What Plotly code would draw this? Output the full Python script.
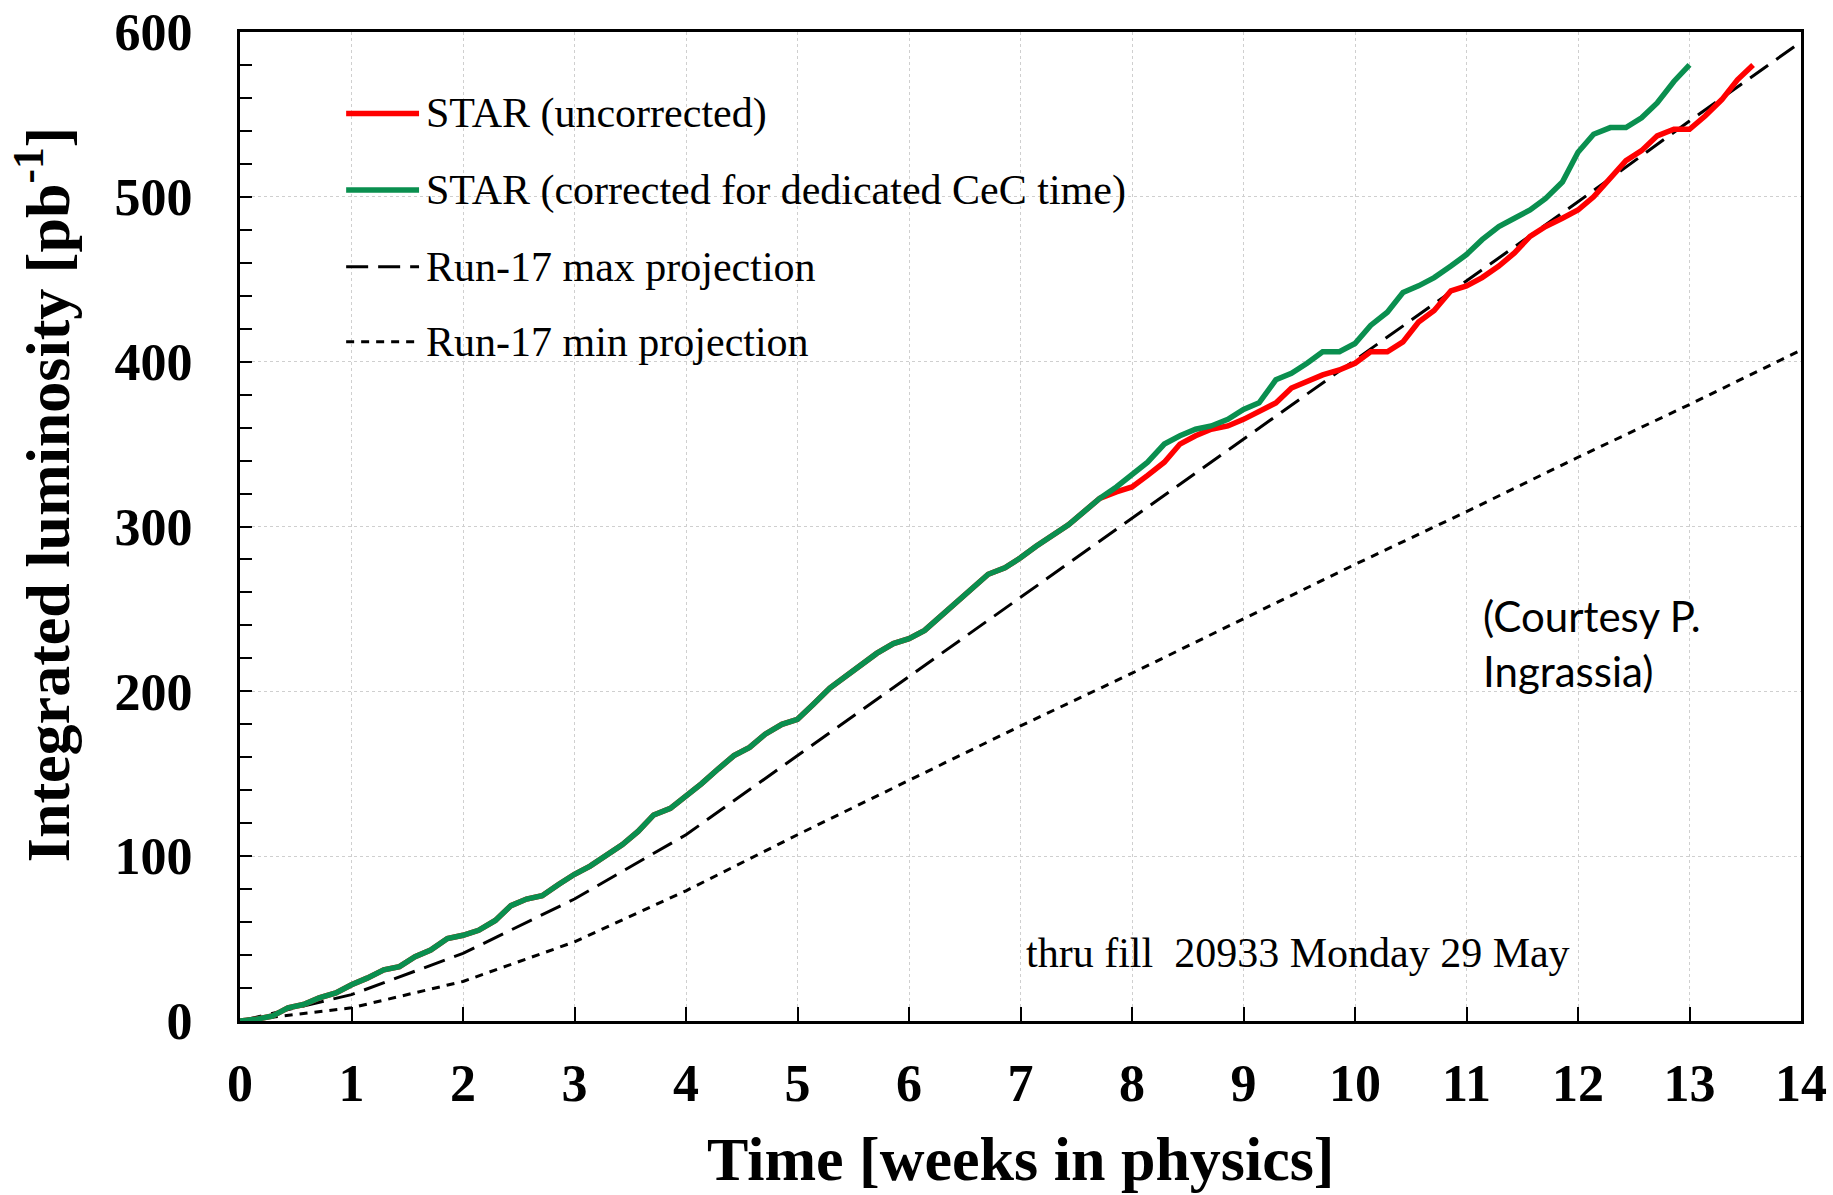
import plotly.graph_objects as go

# Time axis for the measured curves (weeks in physics, one point per day)
weeks_corr = [0.00, 0.14, 0.29, 0.43, 0.57, 0.71, 0.86, 1.00, 1.14, 1.29, 1.43, 1.57, 1.71, 1.86,
              2.00, 2.14, 2.29, 2.43, 2.57, 2.71, 2.86, 3.00, 3.14, 3.29, 3.43, 3.57, 3.71, 3.86,
              4.00, 4.14, 4.29, 4.43, 4.57, 4.71, 4.86, 5.00, 5.14, 5.29, 5.43, 5.57, 5.71, 5.86,
              6.00, 6.14, 6.29, 6.43, 6.57, 6.71, 6.86, 7.00, 7.14, 7.29, 7.43, 7.57, 7.71, 7.86,
              8.00, 8.14, 8.29, 8.43, 8.57, 8.71, 8.86, 9.00, 9.14, 9.29, 9.43, 9.57, 9.71, 9.86,
              10.00, 10.14, 10.29, 10.43, 10.57, 10.71, 10.86, 11.00, 11.14, 11.29, 11.43, 11.57,
              11.71, 11.86, 12.00, 12.14, 12.29, 12.43, 12.57, 12.71, 12.86, 13.00]

# STAR corrected for dedicated CeC time [pb^-1]
lumi_corr = [0, 1, 3, 8, 10, 14, 17, 22, 26, 31, 33, 39, 43, 50,
             52, 55, 61, 70, 74, 76, 83, 89, 94, 101, 107, 115, 125, 129,
             136, 144, 153, 161, 166, 174, 180, 183, 192, 202, 209, 216, 223, 229,
             232, 237, 246, 254, 263, 271, 275, 281, 288, 295, 301, 309, 317, 324,
             332, 339, 350, 355, 359, 361, 365, 371, 375, 389, 393, 399, 406, 406,
             411, 422, 430, 442, 446, 451, 458, 465, 474, 482, 487, 492,
             499, 509, 527, 538, 542, 542, 548, 557, 570, 580]

weeks_unc = weeks_corr[:55] + [7.86, 8.00, 8.14, 8.29, 8.43, 8.57, 8.71, 8.86, 9.00, 9.14, 9.29,
                               9.43, 9.57, 9.71, 9.86, 10.00, 10.14, 10.29, 10.43, 10.57, 10.71,
                               10.86, 11.00, 11.14, 11.29, 11.43, 11.57, 11.71, 11.86, 12.00,
                               12.14, 12.29, 12.43, 12.57, 12.71, 12.86, 13.00, 13.14, 13.29,
                               13.43, 13.57]

# STAR uncorrected [pb^-1]
lumi_unc = lumi_corr[:55] + [321, 324, 331, 339, 350, 355, 359, 361, 365, 370, 375,
                             384, 388, 392, 395, 399, 406, 406, 412, 424, 431,
                             443, 446, 451, 458, 466, 476, 482, 487, 492,
                             500, 511, 522, 528, 537, 541, 541, 549, 559,
                             571, 580]

# Run-17 projections, one value per week
proj_weeks = [0, 1, 2, 3, 4, 5, 6, 7, 8, 9, 10, 11, 12, 13, 14]
proj_max = [0, 16, 41, 74, 113, 161, 209, 257, 305, 353, 401, 449, 497, 546, 594]
proj_min = [0, 8, 24, 48, 79, 113, 146, 179, 211, 244, 277, 309, 342, 374, 407]

legend_labels = ["STAR (uncorrected)",
                 "STAR (corrected for dedicated CeC time)",
                 "Run-17 max projection",
                 "Run-17 min projection"]

x_ticks = list(range(0, 15))
y_ticks = [0, 100, 200, 300, 400, 500, 600]

RED = "#FF0000"
GREEN = "#0A8F4F"
SERIF = "Liberation Serif"
DASH_MAX = dict(color="black", width=3, dash="22px,10px")
DASH_MIN = dict(color="black", width=3, dash="8px,7px")

fig = go.Figure()

fig.add_trace(go.Scatter(x=proj_weeks, y=proj_min, mode="lines",
                         line=DASH_MIN, name=legend_labels[3]))
fig.add_trace(go.Scatter(x=proj_weeks, y=proj_max, mode="lines",
                         line=DASH_MAX, name=legend_labels[2]))
fig.add_trace(go.Scatter(x=weeks_unc, y=lumi_unc, mode="lines",
                         line=dict(color=RED, width=5.5),
                         name=legend_labels[0]))
fig.add_trace(go.Scatter(x=weeks_corr, y=lumi_corr, mode="lines",
                         line=dict(color=GREEN, width=5.5),
                         name=legend_labels[1]))

# Hand-built legend: sample line + label per row
legend_rows = [
    (legend_labels[0], dict(color=RED, width=5.5), 0.9177),
    (legend_labels[1], dict(color=GREEN, width=5.5), 0.8402),
    (legend_labels[2], DASH_MAX, 0.7626),
    (legend_labels[3], DASH_MIN, 0.6867),
]
for label, style, ypos in legend_rows:
    fig.add_shape(type="line", xref="paper", yref="paper",
                  x0=0.0680, x1=0.1147, y0=ypos, y1=ypos, line=style)
    fig.add_annotation(xref="paper", yref="paper", x=0.1180, y=ypos,
                       xanchor="left", yanchor="middle", showarrow=False,
                       text=label, font=dict(family=SERIF, size=42, color="black"))

# Axis titles
fig.add_annotation(xref="paper", yref="paper", x=0.5, y=-0.140,
                   xanchor="center", yanchor="middle", showarrow=False,
                   text="Time [weeks in physics]",
                   font=dict(family=SERIF, size=62, color="black", weight="bold"))
fig.add_annotation(xref="paper", yref="paper", x=-0.126, y=0.532,
                   xanchor="center", yanchor="middle", showarrow=False, textangle=-90,
                   text="Integrated luminosity [pb<sup>-1</sup>]",
                   font=dict(family=SERIF, size=62, color="black", weight="bold"))

# Notes inside the plot
fig.add_annotation(xref="paper", yref="paper", x=0.5025, y=0.0689,
                   xanchor="left", yanchor="middle", showarrow=False,
                   text="thru fill\u00a0 20933 Monday 29 May",
                   font=dict(family=SERIF, size=42, color="black"))
fig.add_annotation(xref="paper", yref="paper", x=0.795, y=0.382,
                   xanchor="left", yanchor="middle", showarrow=False, align="left",
                   text="(Courtesy P.<br>Ingrassia)",
                   font=dict(family="Lato", size=42, color="black"))

fig.update_xaxes(range=[0, 14], tickvals=x_ticks, ticktext=[str(v) for v in x_ticks],
                 ticks="inside", ticklen=14, tickwidth=2, tickcolor="black",
                 showline=True, linewidth=3, linecolor="black", mirror=True,
                 showgrid=True, gridcolor="#cfcfcf", gridwidth=1, griddash="dot",
                 zeroline=False, ticklabelstandoff=15,
                 tickfont=dict(family=SERIF, size=52, color="black", weight="bold"))
fig.update_yaxes(range=[0, 600], tickvals=y_ticks, ticktext=[str(v) for v in y_ticks],
                 ticks="inside", ticklen=12, tickwidth=2, tickcolor="black",
                 minor=dict(dtick=20, ticks="inside", ticklen=12, tickwidth=2,
                            tickcolor="black", showgrid=False),
                 showline=True, linewidth=3, linecolor="black", mirror=True,
                 showgrid=True, gridcolor="#cfcfcf", gridwidth=1, griddash="dot",
                 zeroline=False, ticklabelstandoff=34,
                 tickfont=dict(family=SERIF, size=52, color="black", weight="bold"))

fig.update_layout(width=1833, height=1195, autosize=False,
                  margin=dict(l=240, r=32, t=32, b=174, autoexpand=False),
                  paper_bgcolor="white", plot_bgcolor="white",
                  showlegend=False)

fig.write_html("out.html")
